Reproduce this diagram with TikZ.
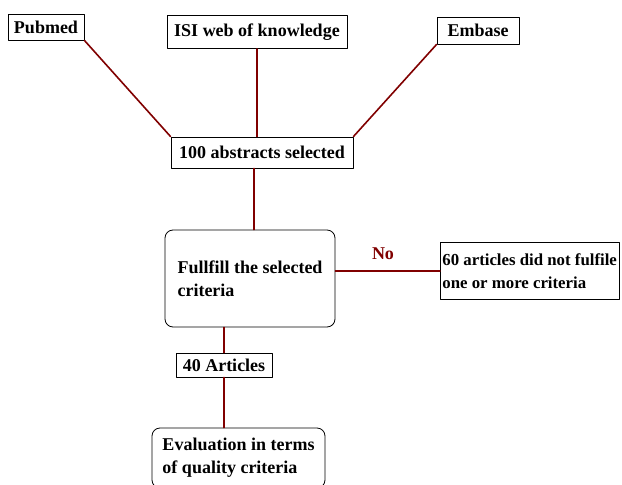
\documentclass[tikz,border=0pt]{standalone}
\usepackage{fontspec}
\setmainfont{Liberation Serif}
\usepackage{tikz}
\usetikzlibrary{positioning}

\definecolor{linkred}{RGB}{128,0,0}

\begin{document}
\begin{tikzpicture}[line cap=round,line join=round,x=1pt,y=-1pt,
  box/.style={draw=black,line width=0.8pt,inner sep=2pt,font=\bfseries\fontsize{18}{23}\selectfont},
  roundbox/.style={box,rounded corners=8pt,align=left},
  link/.style={draw=linkred,line width=1.6pt}]

\useasboundingbox (0,0) rectangle (622,485);
\clip (0,0) rectangle (622,485);

% sources
\node[box,minimum width=76pt,minimum height=26pt] (pubmed) at (46,27) {Pubmed};
\node[box,minimum width=180pt,minimum height=33pt] (isi) at (257,32) {ISI web of knowledge};
\node[box,minimum width=82pt,minimum height=27pt] (embase) at (478,30.5) {Embase};

\node[box,minimum width=182pt,minimum height=31pt] (abstr) at (262,152.5) {100 abstracts selected};

% criteria
\node[roundbox,minimum width=170pt,minimum height=97pt] (fulfil) at (250,278.5)
  {Fullfill the selected\\criteria};
\node[box,font=\bfseries\fontsize{16.8}{23}\selectfont,minimum height=57pt,align=left,anchor=west] (notful) at (440,271)
  {60 articles did not fulfile\\one or more criteria};
\node[font=\bfseries\fontsize{18}{23}\selectfont,text=linkred] (no) at (383,254) {No};

\node[box,minimum width=96pt,minimum height=24pt] (forty) at (224,365) {40 Articles};
\node[roundbox,minimum width=173pt,minimum height=60pt] (evalu) at (238.5,458)
  {Evaluation in terms\\of quality criteria};

% connectors
\draw[link] (pubmed.south east) -- (abstr.north west);
\draw[link] (isi.south) -- (isi.south |- abstr.north);
\draw[link] (embase.south west) -- (abstr.north east);
\draw[link] ([xshift=-8pt]abstr.south) -- ([xshift=-8pt]abstr.south |- fulfil.north);
\draw[link] (notful.west) -- (notful.west -| fulfil.east);
\draw[link] (forty.north) -- (forty.north |- fulfil.south);
\draw[link] (forty.south) -- (forty.south |- evalu.north);

\end{tikzpicture}
\end{document}
